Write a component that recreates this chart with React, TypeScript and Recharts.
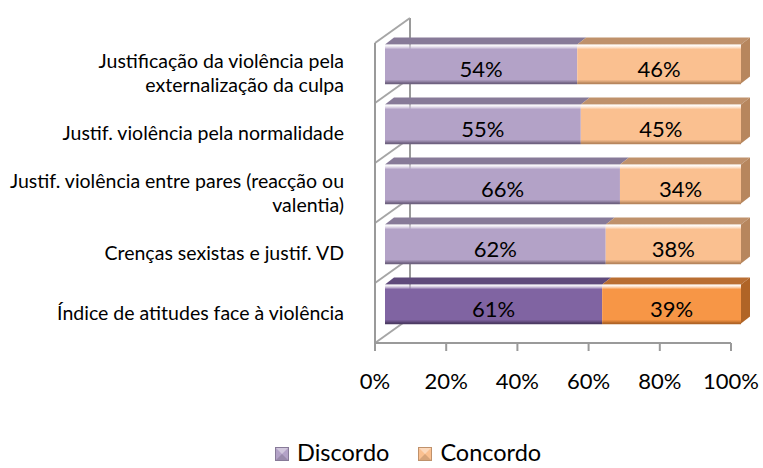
import React from 'react';
import * as R from 'recharts';

const { BarChart, Bar, XAxis, YAxis, Legend, LabelList } = R;

const CATEGORIES = [
  'Justificação da violência pela externalização da culpa',
  'Justif. violência pela normalidade',
  'Justif. violência entre pares (reacção ou valentia)',
  'Crenças sexistas e justif. VD',
  'Índice de atitudes face à violência',
];
const DISCORDO = [54, 55, 66, 62, 61];
const CONCORDO = [46, 45, 34, 38, 39];
const X_TICKS = [0, 20, 40, 60, 80, 100];
const HIGHLIGHT = 'Índice de atitudes face à violência';

const FONT = 'Lato, "Open Sans", sans-serif';

// front / top / side colours for the normal and highlighted rows
const COLORS: Record<string, { front: string; top: string; side: string }[]> = {
  Discordo: [
    { front: '#b3a2c7', top: '#877a98', side: '#6f6280' },
    { front: '#8064a2', top: '#5f4a7b', side: '#4c3b63' },
  ],
  Concordo: [
    { front: '#fac090', top: '#bf916b', side: '#b7865d' },
    { front: '#f79646', top: '#b96e32', side: '#b06426' },
  ],
};

// 3D offsets
const BAR_DX = 10;
const BAR_DY = -9.5;
const DEPTH_X = 9;
const DEPTH_Y = -7;
const WALL_DX = 35;
const WALL_DY = -25;

const data = CATEGORIES.map((c, i) => ({
  category: c,
  Discordo: DISCORDO[i],
  Concordo: CONCORDO[i],
}));

const wrap = (s: string, max = 41) => {
  const words = s.split(' ');
  const lines: string[] = [];
  let cur = '';
  words.forEach((w) => {
    const next = cur ? cur + ' ' + w : w;
    if (next.length > max && cur) {
      lines.push(cur);
      cur = w;
    } else cur = next;
  });
  if (cur) lines.push(cur);
  return lines;
};

const CategoryTick = ({ x, y, payload }: any) => {
  const lines = wrap(payload.value);
  const lh = 24;
  const start = y - ((lines.length - 1) * lh) / 2;
  return (
    <text x={x - 23} textAnchor="end" fontFamily={FONT} fontSize={19.5} fill="#000">
      {lines.map((l, i) => (
        <tspan key={i} x={x - 23} y={start + i * lh} dy="0.35em">
          {l}
        </tspan>
      ))}
    </text>
  );
};

const Bar3D = (props: any) => {
  const { x, y, width, height, payload, series, last } = props;
  if (!width || width <= 0) return null;
  const hi = payload.category === HIGHLIGHT ? 1 : 0;
  const c = COLORS[series][hi];
  const x0 = x + BAR_DX;
  const y0 = y + BAR_DY;
  const x1 = x0 + width;
  const y1 = y0 + height;
  return (
    <g>
      <polygon
        points={`${x0},${y0} ${x0 + DEPTH_X},${y0 + DEPTH_Y} ${x1 + DEPTH_X},${y0 + DEPTH_Y} ${x1},${y0}`}
        fill={c.top}
      />
      <rect x={x0} y={y0} width={width} height={height} fill={`url(#g-${series}-${hi})`} />
      <line x1={x0} y1={y1} x2={x1} y2={y1} stroke={c.side} strokeWidth={1.5} />
      {last && (
        <polygon
          points={`${x1},${y0} ${x1 + DEPTH_X},${y0 + DEPTH_Y} ${x1 + DEPTH_X},${y1 + DEPTH_Y} ${x1},${y1}`}
          fill={c.side}
        />
      )}
    </g>
  );
};

const Walls = () => {
  const usePlot = (R as any).usePlotArea;
  const area = usePlot ? usePlot() : null;
  const defs = (
    <defs>
      {Object.keys(COLORS).map((k) =>
        COLORS[k].map((c, i) => (
          <linearGradient key={`${k}${i}`} id={`g-${k}-${i}`} x1="0" y1="0" x2="0" y2="1">
            <stop offset="0" stopColor="#ffffff" stopOpacity={0.35} />
            <stop offset="0.12" stopColor={c.front} />
            <stop offset="0.9" stopColor={c.front} />
            <stop offset="1" stopColor={c.side} />
          </linearGradient>
        ))
      )}
    </defs>
  );
  if (!area) return defs;
  const { x, y, height } = area;
  const band = height / CATEGORIES.length;
  return (
    <g>
      {defs}
      <line x1={x + WALL_DX} y1={y + WALL_DY} x2={x + WALL_DX} y2={y + height + WALL_DY} stroke="#9a9a9a" strokeWidth={2} />
      {Array.from({ length: CATEGORIES.length + 1 }).map((_, i) => (
        <line
          key={i}
          x1={x}
          y1={y + i * band}
          x2={x + WALL_DX}
          y2={y + i * band + WALL_DY}
          stroke="#a6a6a6"
          strokeWidth={2}
        />
      ))}
    </g>
  );
};

const ValueLabel = ({ x, y, width, height, value }: any) => (
  <text
    x={x + width / 2 + BAR_DX}
    y={y + height / 2 + BAR_DY + 4}
    textAnchor="middle"
    dominantBaseline="central"
    fontFamily={FONT}
    fontSize={22}
    fill="#000"
  >
    {value}%
  </text>
);

const LegendIcon = ({ front, top }: { front: string; top: string }) => (
  <svg width={14} height={14} style={{ verticalAlign: 'middle', marginRight: 8, marginTop: -3 }}>
    <rect x={0} y={0} width={14} height={14} fill={front} />
    <polygon points="0,0 14,0 7,7" fill="#ffffff" fillOpacity={0.4} />
    <polygon points="0,14 14,14 7,7" fill={top} fillOpacity={0.6} />
    <rect x={0.5} y={0.5} width={13} height={13} fill="none" stroke={top} />
  </svg>
);

const LegendContent = () => (
  <div style={{ paddingLeft: 275, fontFamily: FONT, fontSize: 23.5, color: '#000', lineHeight: '22px', whiteSpace: 'nowrap' }}>
    <span style={{ marginRight: 29 }}>
      <LegendIcon front={COLORS.Discordo[0].front} top={COLORS.Discordo[0].top} />
      Discordo
    </span>
    <span>
      <LegendIcon front={COLORS.Concordo[0].front} top={COLORS.Concordo[0].top} />
      Concordo
    </span>
  </div>
);

export default function App() {
  return (
    <div style={{ position: 'absolute', left: 0, top: 0, width: 763, height: 468, background: '#fff' }}>
      <BarChart
        width={763}
        height={468}
        data={data}
        layout="vertical"
        barCategoryGap={0}
        margin={{ top: 43, right: 32, left: 0, bottom: 95 }}
      >
        <Walls />
        <XAxis
          type="number"
          domain={[0, 100]}
          ticks={X_TICKS}
          interval={0}
          tickFormatter={(v: number) => `${v}%`}
          axisLine={{ stroke: '#9a9a9a', strokeWidth: 2 }}
          tickLine={{ stroke: '#9a9a9a', strokeWidth: 2 }}
          tickSize={8}
          tickMargin={22}
          height={30}
          tick={{ fontFamily: FONT, fontSize: 22, fill: '#000' }}
        />
        <YAxis
          type="category"
          dataKey="category"
          width={375}
          axisLine={{ stroke: '#9a9a9a', strokeWidth: 2 }}
          tickLine={false}
          tick={<CategoryTick />}
          interval={0}
        />
        <Legend
          layout="horizontal"
          verticalAlign="middle"
          align="center"
          wrapperStyle={{ top: 441, left: 0, width: 763 }}
          content={<LegendContent />}
        />
        <Bar
          dataKey="Discordo"
          stackId="s"
          barSize={39}
          isAnimationActive={false}
          shape={(p: any) => <Bar3D {...p} series="Discordo" />}
        >
          <LabelList dataKey="Discordo" content={<ValueLabel />} />
        </Bar>
        <Bar
          dataKey="Concordo"
          stackId="s"
          barSize={39}
          isAnimationActive={false}
          shape={(p: any) => <Bar3D {...p} series="Concordo" last />}
        >
          <LabelList dataKey="Concordo" content={<ValueLabel />} />
        </Bar>
      </BarChart>
    </div>
  );
}
